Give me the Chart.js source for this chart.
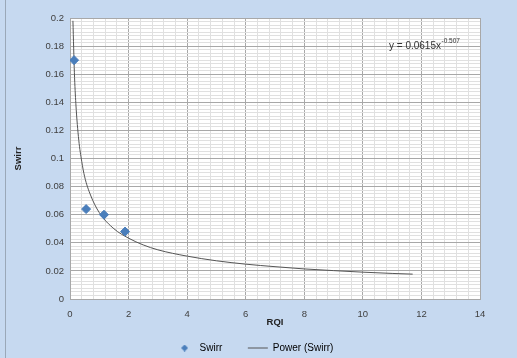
<!DOCTYPE html>
<html>
<head>
<script src="https://cdn.jsdelivr.net/npm/chart.js"></script>
<style>
html, body { margin: 0; padding: 0; background: #c6d9f0; }
.wrap { position: relative; width: 517px; height: 358px; }
.edge { position: absolute; left: 5px; top: 0; width: 1px; height: 358px; background: #9aa8b8; }
</style>
</head>
<body>
<div class="wrap">
<canvas id="c" width="517" height="358"></canvas>
<div class="edge"></div>
</div>
<script>
// measured points
const rqi = [0.14, 0.55, 1.16, 1.88];
const swirr = [0.17, 0.064, 0.060, 0.048];
// trendline
const trendX = [0.1, 0.15, 0.2, 0.3, 0.4, 0.5, 0.7, 1, 1.5, 2, 2.5, 3, 4, 5, 6, 7, 8, 9, 10, 11, 11.7];
const trendY = [0.198, 0.161, 0.139, 0.113, 0.098, 0.087, 0.074, 0.0615, 0.050, 0.0433, 0.0385, 0.035, 0.0305, 0.0272, 0.0248, 0.023, 0.0214, 0.0202, 0.0191, 0.0182, 0.0177];

const FONT = '"Liberation Sans", Arial, sans-serif';
const BLUE = '#4a7ebb';
const isMajor = (v, step) => Math.abs(v / step - Math.round(v / step)) < 1e-6;

// small diamond for the legend (the built-in rectRot gets stretched by pointStyleWidth)
const legendDiamond = document.createElement('canvas');
legendDiamond.width = 7;
legendDiamond.height = 7;
(() => {
  const g = legendDiamond.getContext('2d');
  g.fillStyle = BLUE;
  g.beginPath();
  g.moveTo(3.5, 0); g.lineTo(7, 3.5); g.lineTo(3.5, 7); g.lineTo(0, 3.5);
  g.closePath();
  g.fill();
})();

const plotBg = {
  id: 'plotBg',
  beforeDraw(chart) {
    const a = chart.chartArea;
    chart.ctx.save();
    chart.ctx.fillStyle = '#ffffff';
    chart.ctx.fillRect(a.left, a.top, a.right - a.left, a.bottom - a.top);
    chart.ctx.restore();
  }
};

const eqLabel = {
  id: 'eqLabel',
  afterDraw(chart) {
    const ctx = chart.ctx;
    ctx.save();
    ctx.fillStyle = '#333';
    ctx.font = '10px ' + FONT;
    const x = 389, y = 46;
    const main = 'y = 0.0615x';
    ctx.fillText(main, x, y);
    const w = ctx.measureText(main).width;
    ctx.font = '6.5px ' + FONT;
    ctx.fillText('-0.507', x + w + 0.5, y - 4.5);
    ctx.restore();
  }
};

new Chart(document.getElementById('c'), {
  type: 'scatter',
  data: {
    datasets: [{
      label: 'Swirr',
      data: rqi.map((x, i) => ({ x: x, y: swirr[i] })),
      pointStyle: 'rectRot',
      pointRadius: 4.5,
      pointHoverRadius: 4.5,
      backgroundColor: BLUE,
      borderColor: BLUE,
      showLine: false
    }, {
      label: 'Power (Swirr)',
      data: trendX.map((x, i) => ({ x: x, y: trendY[i] })),
      showLine: true,
      cubicInterpolationMode: 'monotone',
      borderColor: '#555',
      borderWidth: 1,
      pointRadius: 0,
      backgroundColor: '#555'
    }]
  },
  options: {
    responsive: false,
    animation: false,
    layout: { padding: { left: 28, right: 37, top: 18, bottom: -5 } },
    scales: {
      x: {
        type: 'linear', min: 0, max: 14,
        ticks: {
          stepSize: 0.4, autoSkip: false, maxRotation: 0, color: '#404040',
          font: { size: 9.5, family: FONT },
          padding: 10,
          callback: v => isMajor(v, 2) ? String(Math.round(v)) : ''
        },
        grid: {
          color: c => isMajor(c.tick.value, 2) ? '#a8a8a8' : '#e0e0e0',
          drawTicks: false
        },
        border: { color: '#a8a8a8' },
        title: {
          display: true, text: 'RQI', color: '#222',
          font: { size: 9.5, weight: 'bold', family: FONT },
          padding: { top: 0, bottom: 9 }
        },
        afterFit: s => { s.height = 38; }
      },
      y: {
        type: 'linear', min: 0, max: 0.2,
        ticks: {
          stepSize: 0.0025, autoSkip: false, color: '#404040',
          font: { size: 9.5, family: FONT },
          padding: 6,
          callback: v => isMajor(v, 0.02) ? String(Math.round(v * 100) / 100) : ''
        },
        grid: {
          color: c => isMajor(c.tick.value, 0.02) ? '#a8a8a8' : '#e0e0e0',
          drawTicks: false
        },
        border: { color: '#a8a8a8' },
        title: {
          display: true, text: 'Swirr', color: '#222',
          font: { size: 9.5, weight: 'bold', family: FONT },
          padding: { top: -15, bottom: 0 }
        },
        afterFit: s => { s.width = 42; }
      }
    },
    plugins: {
      legend: {
        position: 'bottom',
        labels: {
          usePointStyle: true,
          pointStyleWidth: 20,
          color: '#333',
          boxHeight: 6,
          padding: 6,
          font: { size: 10, family: FONT },
          generateLabels: chart => [
            { text: 'Swirr' + '\u00a0'.repeat(7), pointStyle: legendDiamond, fillStyle: BLUE, strokeStyle: BLUE, lineWidth: 1, datasetIndex: 0 },
            { text: 'Power (Swirr)', pointStyle: 'line', fillStyle: '#555', strokeStyle: '#555', lineWidth: 1, datasetIndex: 1 }
          ]
        }
      },
      tooltip: { enabled: false }
    }
  },
  plugins: [plotBg, eqLabel]
});
</script>
</body>
</html>
